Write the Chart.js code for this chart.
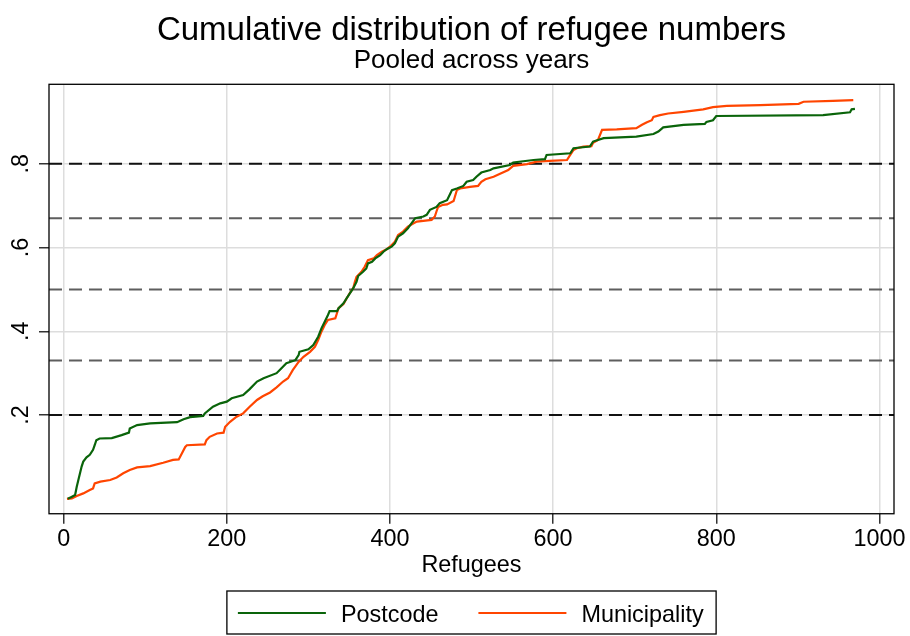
<!DOCTYPE html>
<html>
<head>
<meta charset="utf-8">
<script src="https://cdn.jsdelivr.net/npm/chart.js@4"></script>
<style>
  html, body { margin: 0; padding: 0; background: #ffffff; }
  #wrap { width: 910px; height: 636px; }
</style>
</head>
<body>
<div id="wrap"><canvas id="c" width="910" height="636"></canvas></div>
<script>
// ---- Data ----
const seriesNames = ['Postcode', 'Municipality'];

const postcodeX = [5, 9, 14, 16, 18, 20, 22, 24, 28, 32, 36, 38, 40, 44, 59, 71, 80, 81, 90, 106, 139, 147, 155, 171, 173, 183, 192, 200, 206, 220, 228, 237, 245, 261, 267, 273, 284, 288, 289, 300, 306, 312, 316, 320, 324, 326, 335, 337, 343, 347, 351, 355, 359, 361, 367, 371, 373, 378, 382, 388, 392, 396, 402, 406, 410, 416, 422, 425, 431, 441, 445, 449, 457, 461, 470, 474, 476, 482, 490, 494, 502, 506, 512, 523, 527, 547, 551, 576, 590, 592, 621, 625, 645, 649, 662, 702, 723, 729, 735, 760, 786, 788, 796, 800, 931, 964, 966, 970];
const postcodeY = [0.000, 0.004, 0.009, 0.029, 0.045, 0.061, 0.077, 0.089, 0.099, 0.105, 0.117, 0.128, 0.140, 0.144, 0.145, 0.152, 0.158, 0.168, 0.176, 0.180, 0.183, 0.190, 0.195, 0.198, 0.204, 0.220, 0.228, 0.232, 0.240, 0.248, 0.262, 0.280, 0.288, 0.300, 0.312, 0.324, 0.331, 0.343, 0.351, 0.357, 0.367, 0.387, 0.407, 0.423, 0.439, 0.448, 0.448, 0.455, 0.467, 0.479, 0.491, 0.503, 0.518, 0.532, 0.542, 0.550, 0.562, 0.566, 0.574, 0.582, 0.590, 0.596, 0.602, 0.610, 0.626, 0.634, 0.646, 0.654, 0.670, 0.674, 0.678, 0.690, 0.697, 0.706, 0.713, 0.729, 0.737, 0.741, 0.747, 0.757, 0.761, 0.769, 0.779, 0.785, 0.789, 0.797, 0.803, 0.809, 0.811, 0.821, 0.825, 0.837, 0.841, 0.853, 0.861, 0.865, 0.871, 0.877, 0.887, 0.893, 0.895, 0.900, 0.904, 0.914, 0.916, 0.923, 0.930, 0.931];

const municipalityX = [4, 10, 16, 24, 32, 36, 38, 45, 57, 65, 73, 81, 90, 106, 122, 134, 141, 145, 149, 151, 173, 175, 179, 188, 196, 198, 204, 212, 220, 228, 237, 244, 253, 261, 269, 275, 281, 288, 294, 302, 308, 312, 316, 320, 324, 333, 335, 337, 343, 347, 351, 355, 357, 359, 365, 369, 373, 380, 384, 390, 396, 400, 406, 410, 416, 422, 429, 433, 451, 455, 457, 459, 465, 470, 478, 482, 486, 498, 508, 512, 517, 527, 535, 545, 551, 568, 580, 596, 617, 621, 625, 629, 637, 647, 649, 655, 660, 678, 702, 709, 715, 721, 723, 731, 741, 760, 784, 796, 813, 854, 901, 907, 943, 968];
const municipalityY = [0.000, 0.001, 0.007, 0.013, 0.021, 0.025, 0.037, 0.041, 0.045, 0.051, 0.061, 0.069, 0.075, 0.078, 0.086, 0.093, 0.094, 0.109, 0.124, 0.128, 0.130, 0.140, 0.148, 0.156, 0.158, 0.172, 0.184, 0.196, 0.204, 0.220, 0.236, 0.245, 0.254, 0.266, 0.280, 0.288, 0.308, 0.327, 0.339, 0.351, 0.363, 0.379, 0.399, 0.415, 0.427, 0.431, 0.443, 0.455, 0.465, 0.479, 0.492, 0.503, 0.518, 0.530, 0.542, 0.554, 0.570, 0.574, 0.582, 0.590, 0.596, 0.602, 0.614, 0.630, 0.638, 0.650, 0.658, 0.662, 0.666, 0.674, 0.686, 0.697, 0.702, 0.703, 0.711, 0.737, 0.741, 0.745, 0.747, 0.757, 0.763, 0.769, 0.776, 0.785, 0.795, 0.799, 0.805, 0.807, 0.809, 0.821, 0.833, 0.837, 0.841, 0.842, 0.850, 0.857, 0.881, 0.882, 0.885, 0.893, 0.899, 0.904, 0.912, 0.916, 0.920, 0.924, 0.930, 0.935, 0.938, 0.940, 0.943, 0.948, 0.950, 0.952];

const xTickValues = [0, 200, 400, 600, 800, 1000];
const xTickLabels = ['0', '200', '400', '600', '800', '1000'];
const yTickValues = [0.2, 0.4, 0.6, 0.8];
const yTickLabels = ['.2', '.4', '.6', '.8'];

const majorRefLevels = [0.2, 0.8];
const minorRefLevels = [0.33, 0.5, 0.67];

const titleText = 'Cumulative distribution of refugee numbers';
const subtitleText = 'Pooled across years';
const xTitleText = 'Refugees';

// ---- Build chart ----
const FONT = "'Liberation Sans', Arial, Helvetica, sans-serif";
Chart.defaults.font.family = FONT;
Chart.defaults.color = '#000000';

const GREEN = '#0a640a';
const ORANGE = '#ff4500';

function toPoints(xs, ys) {
  return xs.map((x, i) => ({ x: x, y: ys[i] }));
}

const refLinesPlugin = {
  id: 'refLines',
  beforeDatasetsDraw(chart) {
    const { ctx, chartArea, scales } = chart;
    const y = scales.y;
    ctx.save();
    ctx.lineWidth = 2;
    ctx.setLineDash([13, 7]);
    const drawLevel = (v, color) => {
      const py = y.getPixelForValue(v);
      ctx.strokeStyle = color;
      ctx.beginPath();
      ctx.moveTo(chartArea.left, py);
      ctx.lineTo(chartArea.right, py);
      ctx.stroke();
    };
    minorRefLevels.forEach(v => drawLevel(v, '#5e5e5e'));
    majorRefLevels.forEach(v => drawLevel(v, '#111111'));
    ctx.setLineDash([]);
    ctx.strokeStyle = '#000000';
    ctx.lineWidth = 1.3;
    ctx.strokeRect(chartArea.left, chartArea.top, chartArea.right - chartArea.left, chartArea.bottom - chartArea.top);
    ctx.restore();
  }
};

const boxLegendPlugin = {
  id: 'boxLegend',
  afterDraw(chart) {
    const { ctx, chartArea } = chart;
    const fontSize = 23.4;
    ctx.save();
    ctx.font = fontSize + 'px ' + FONT;
    const items = chart.data.datasets.map(ds => ({ label: ds.label, color: ds.borderColor, w: ctx.measureText(ds.label).width }));
    const padL = 11, lineLen = 88, gap = 15, itemGap = 40, padR = 12.5;
    let total = padL + padR;
    items.forEach((it, i) => { total += lineLen + gap + it.w + (i < items.length - 1 ? itemGap : 0); });
    const cx = (chartArea.left + chartArea.right) / 2;
    const left = cx - total / 2;
    const top = chart.height - 45;
    const h = 43;
    ctx.strokeStyle = '#000000';
    ctx.lineWidth = 1.3;
    ctx.strokeRect(left, top, total, h);
    let x = left + padL;
    const lineY = top + 22;
    const textY = top + 30.7;
    items.forEach(it => {
      ctx.strokeStyle = it.color;
      ctx.lineWidth = 2;
      ctx.beginPath();
      ctx.moveTo(x, lineY);
      ctx.lineTo(x + lineLen, lineY);
      ctx.stroke();
      x += lineLen + gap;
      ctx.fillStyle = '#000000';
      ctx.textBaseline = 'alphabetic';
      ctx.textAlign = 'left';
      ctx.fillText(it.label, x, textY);
      x += it.w + itemGap;
    });
    ctx.restore();
  }
};

new Chart(document.getElementById('c'), {
  type: 'scatter',
  data: {
    datasets: [
      {
        label: seriesNames[0],
        data: toPoints(postcodeX, postcodeY),
        showLine: true,
        borderColor: GREEN,
        backgroundColor: GREEN,
        borderWidth: 2.2,
        pointRadius: 0,
        tension: 0
      },
      {
        label: seriesNames[1],
        data: toPoints(municipalityX, municipalityY),
        showLine: true,
        borderColor: ORANGE,
        backgroundColor: ORANGE,
        borderWidth: 2.2,
        pointRadius: 0,
        tension: 0
      }
    ]
  },
  options: {
    responsive: false,
    animation: false,
    devicePixelRatio: 1,
    layout: { padding: { left: 0, right: 16, top: 0, bottom: 56.86 } },
    plugins: {
      legend: { display: false },
      tooltip: { enabled: false },
      title: {
        display: true,
        text: titleText,
        fullSize: false,
        color: '#000000',
        font: { size: 33, weight: 'normal', lineHeight: 1 },
        padding: { top: 14.45, bottom: 0 }
      },
      subtitle: {
        display: true,
        text: subtitleText,
        fullSize: false,
        color: '#000000',
        font: { size: 26, weight: 'normal', lineHeight: 1 },
        padding: { top: 0.75, bottom: 10.1 }
      }
    },
    scales: {
      x: {
        type: 'linear',
        position: 'bottom',
        min: -18.0,
        max: 1017.9,
        afterBuildTicks: (s) => { s.ticks = xTickValues.map(v => ({ value: v })); },
        afterFit: (s) => { s.height = 65.4; s.paddingLeft = 0; s.paddingRight = 0; },
        ticks: {
          autoSkip: false,
          maxRotation: 0,
          minRotation: 0,
          padding: 2.5,
          color: '#000000',
          font: { size: 23.4, lineHeight: 1.13 },
          callback: (v) => { const i = xTickValues.indexOf(v); return i >= 0 ? xTickLabels[i] : ''; }
        },
        grid: {
          color: '#dddddd',
          lineWidth: 1.5,
          drawTicks: true,
          tickLength: 10,
          tickColor: '#333333',
          tickWidth: 1.5
        },
        border: { display: false },
        title: {
          display: true,
          text: xTitleText,
          color: '#000000',
          font: { size: 23.4, lineHeight: 1.2 },
          padding: { top: 0, bottom: 0 }
        }
      },
      y: {
        type: 'linear',
        position: 'left',
        min: -0.0356,
        max: 0.9897,
        afterBuildTicks: (s) => { s.ticks = yTickValues.map(v => ({ value: v })); },
        afterFit: (s) => { s.width = 49; s.paddingTop = 0; s.paddingBottom = 0; },
        ticks: {
          autoSkip: false,
          minRotation: 90,
          maxRotation: 90,
          crossAlign: 'center',
          padding: 8,
          color: '#000000',
          font: { size: 23.4, lineHeight: 1.2 },
          callback: (v) => { const i = yTickValues.indexOf(v); return i >= 0 ? yTickLabels[i] : ''; }
        },
        grid: {
          color: '#dddddd',
          lineWidth: 1.5,
          drawTicks: true,
          tickLength: 10,
          tickColor: '#333333',
          tickWidth: 1.5
        },
        border: { display: false }
      }
    }
  },
  plugins: [refLinesPlugin, boxLegendPlugin]
});
</script>
</body>
</html>
